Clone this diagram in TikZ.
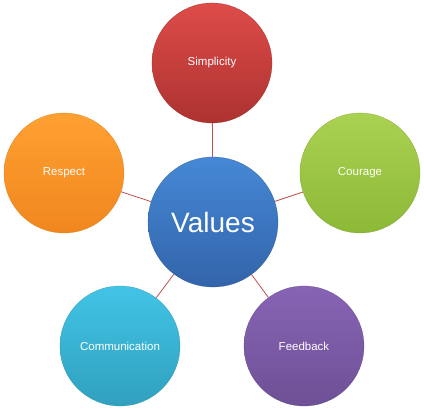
\documentclass[tikz,border=0pt]{standalone}
\usepackage{fontspec}
\setmainfont{Liberation Sans}
\usetikzlibrary{shapes.geometric}
\definecolor{linkred}{HTML}{C0504D}
\begin{document}
\begin{tikzpicture}[
        x = 1pt, y = -1pt, % pixel-like coordinates
        semithick % line style
    ]

    \tikzstyle{value}=[
        circle,
        draw = white!60!black,
        very thin,
        inner sep = 0pt,
        minimum size = 120pt,
        text = white,
        font = \fontsize{11.5}{13}\selectfont
    ]
    \tikzstyle{link}=[draw = linkred, thick]

    \useasboundingbox (0,0) rectangle (424,409);

    \node[value, minimum size = 130pt, top color = {rgb,255:red,70;green,136;blue,214}, bottom color = {rgb,255:red,50;green,100;blue,170}, draw = {rgb,255:red,45;green,88;blue,150},
          font = \fontsize{28}{30}\selectfont] (V) at (213,222) {Values};
    \node[value, top color = {rgb,255:red,222;green,76;blue,73}, bottom color = {rgb,255:red,172;green,50;blue,48}, draw = {rgb,255:red,150;green,40;blue,38}] (S) at (212,63) {Simplicity};
    \node[value, top color = {rgb,255:red,255;green,160;blue,50}, bottom color = {rgb,255:red,240;green,135;blue,30}, draw = {rgb,255:red,220;green,120;blue,20}] (R) at (64,173) {Respect};
    \node[value, top color = {rgb,255:red,170;green,210;blue,80}, bottom color = {rgb,255:red,140;green,185;blue,55}, draw = {rgb,255:red,120;green,160;blue,45}] (C) at (360,173) {Courage};
    \node[value, top color = {rgb,255:red,66;green,196;blue,230}, bottom color = {rgb,255:red,48;green,160;blue,190}, draw = {rgb,255:red,40;green,140;blue,170}] (M) at (120,346) {Communication};
    \node[value, top color = {rgb,255:red,135;green,100;blue,180}, bottom color = {rgb,255:red,110;green,80;blue,150}, draw = {rgb,255:red,95;green,70;blue,130}] (F) at (304,346) {Feedback};

    \path[link] (V) edge (S);
    \path[link] (V) edge (R);
    \path[link] (V) edge (C);
    \path[link] (V) edge (M);
    \path[link] (V) edge (F);
\end{tikzpicture}
\end{document}
